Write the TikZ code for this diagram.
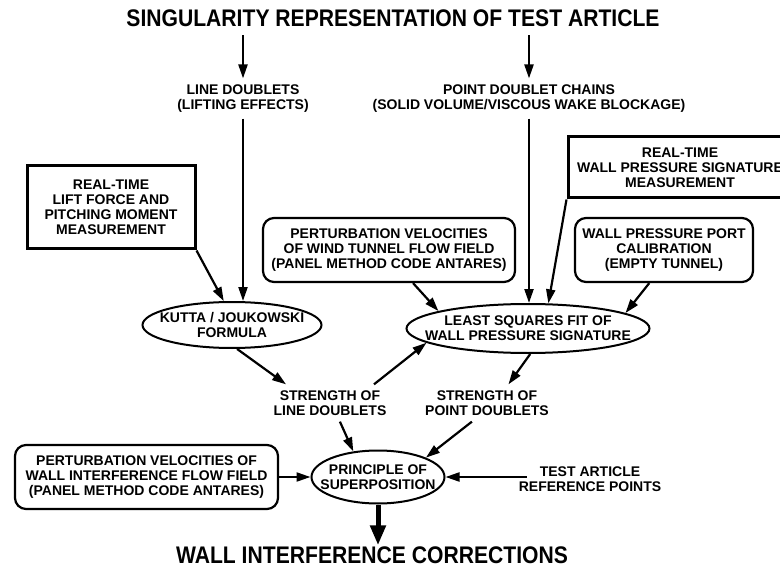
\documentclass[tikz,border=0pt]{standalone}
\usepackage{fontspec}
\setmainfont{Liberation Sans}
\newfontfamily\titlefont[FakeStretch=0.88]{Liberation Sans}
\usetikzlibrary{arrows.meta,shapes.geometric}

\begin{document}
\begin{tikzpicture}[x=1pt, y=-1pt,
  every node/.style={font=\fontsize{14}{15}\selectfont\bfseries, align=center},
  heading/.style={font=\titlefont\fontsize{24}{26}\selectfont\bfseries},
  oval/.style={draw, ellipse, line width=2pt, inner sep=-30pt},
  squarebox/.style={draw, rectangle, line width=3pt},
  roundbox/.style={draw, rectangle, rounded corners=11pt, line width=2.2pt},
  arr/.style={line width=2.2pt, -{Triangle[length=14pt,width=9pt]}},
  bigarr/.style={line width=5pt, -{Triangle[length=20pt,width=15pt]}}]
\useasboundingbox (0,0) rectangle (780,567);
\clip (0,0) rectangle (780,567);
% singularities
\node[heading, inner sep=8pt] (title) at (393,18.5) {SINGULARITY REPRESENTATION OF TEST ARTICLE};
\node[inner sep=6pt] (linedbl) at (243,98.5) {LINE DOUBLETS\\(LIFTING EFFECTS)};
\node[inner sep=6pt] (pointdbl) at (529,98.5) {POINT DOUBLET CHAINS\\(SOLID VOLUME/VISCOUS WAKE BLOCKAGE)};
% measurements and codes
\node[squarebox, minimum width=168, minimum height=83] (liftbox) at (111,207.5)
  {REAL-TIME\\LIFT FORCE AND\\PITCHING MOMENT\\MEASUREMENT};
\node[squarebox, minimum width=224, minimum height=61] (wprbox) at (680,167.5)
  {REAL-TIME\\WALL PRESSURE SIGNATURE\\MEASUREMENT};
\node[roundbox, minimum width=252, minimum height=64] (windbox) at (389,250)
  {PERTURBATION VELOCITIES\\OF WIND TUNNEL FLOW FIELD\\(PANEL METHOD CODE ANTARES)};
\node[roundbox, minimum width=178, minimum height=64] (calbox) at (664,250)
  {WALL PRESSURE PORT\\CALIBRATION\\(EMPTY TUNNEL)};
\node[oval, minimum width=179, minimum height=46] (kutta) at (232,325) {KUTTA / JOUKOWSKI\\FORMULA};
\node[oval, minimum width=243, minimum height=49] (lsq) at (528,328.5) {LEAST SQUARES FIT OF\\WALL PRESSURE SIGNATURE};
\node[inner sep=6pt] (strline) at (330,403) {STRENGTH OF\\LINE DOUBLETS};
\node[inner sep=6pt] (strpt) at (487,403) {STRENGTH OF\\POINT DOUBLETS};
% superposition
\node[oval, minimum width=133, minimum height=53] (princ) at (378,477) {PRINCIPLE OF\\SUPERPOSITION};
\node[roundbox, minimum width=263, minimum height=64] (wifbox) at (146.5,477)
  {PERTURBATION VELOCITIES OF\\WALL INTERFERENCE FLOW FIELD\\(PANEL METHOD CODE ANTARES)};
\node[inner sep=0pt] (testref) at (590,479.5) {TEST ARTICLE\\REFERENCE POINTS};
\node[heading, inner sep=1.5pt] (corr) at (372,555.5) {WALL INTERFERENCE CORRECTIONS};
% connectors
\draw[arr] (title.south -| linedbl.north) -- (linedbl.north);
\draw[arr] (title.south -| pointdbl.north) -- (pointdbl.north);
\draw[arr] (linedbl.south) -- (linedbl.south |- kutta.north);
\draw[arr] (pointdbl.south) -- (pointdbl.south |- lsq.north);
\draw[arr] (liftbox.south east) -- (kutta.109);
\draw[arr] (windbox.-54) -- (lsq.169);
\draw[arr] (wprbox.south west) -- (lsq.51);
\draw[arr] (calbox.-114) -- (lsq.9);
\draw[arr] (kutta.-78) -- (strline.157);
\draw[arr] (strline.23) -- (lsq.-172);
\draw[arr] (lsq.-85) -- (strpt.41);
\draw[arr] (strline.-62) -- (princ.134);
\draw[arr] (strpt.-129) -- (princ.22);
\draw[arr] (wifbox.east) -- (princ.west);
\draw[arr] ([xshift=8pt]testref.west |- princ.east) -- (princ.east);
\draw[bigarr] (princ.south) -- (princ.south |- corr.north);
\end{tikzpicture}
\end{document}
